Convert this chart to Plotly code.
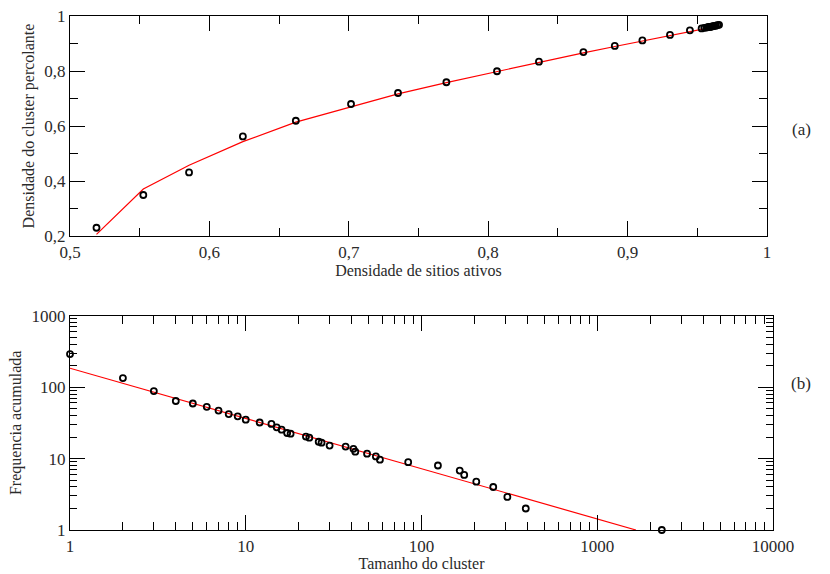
import plotly.graph_objects as go

# (a) percolating cluster density vs. density of active sites
dens_ativos = [0.519, 0.5526, 0.5854, 0.624, 0.662, 0.7016, 0.7353, 0.770, 0.8063,
               0.8364, 0.8683, 0.8908, 0.9106, 0.9304, 0.9447, 0.9531, 0.9550,
               0.9565, 0.9578, 0.9590, 0.9600, 0.9612, 0.9622, 0.9633, 0.9645, 0.9656]
dens_cluster = [0.230, 0.349, 0.431, 0.562, 0.619, 0.680, 0.720, 0.759, 0.799,
                0.834, 0.869, 0.891, 0.911, 0.931, 0.948, 0.955, 0.957,
                0.958, 0.960, 0.960, 0.961, 0.963, 0.964, 0.965, 0.967, 0.968]
ajuste_a = [0.206, 0.371, 0.457, 0.543, 0.614, 0.671, 0.717, 0.758, 0.798,
            0.832, 0.866, 0.889, 0.909, 0.929, 0.944, 0.952, 0.954,
            0.955, 0.957, 0.958, 0.959, 0.960, 0.961, 0.962, 0.963, 0.964]

# (b) cumulative frequency vs. cluster size
tamanho = [1, 2, 3, 4, 5, 6, 7, 8, 9, 10, 12, 14, 15, 16, 17.2, 18, 22, 23, 26, 27,
           30, 37, 41, 42, 49, 55, 58, 84, 124, 165, 175, 205, 256, 308, 392, 2330]
frequencia = [290, 134, 88, 64, 59, 53, 47, 42, 39, 35, 32, 30.5, 27.4, 25.4, 22.8,
              22.3, 20.3, 19.6, 17.2, 16.7, 15.2, 14.7, 13.7, 12.5, 11.7, 10.7, 9.65,
              8.9, 8.0, 6.8, 5.9, 4.75, 4.0, 2.9, 2.0, 1.0]
ajuste_b_x = [1, 1660]
ajuste_b_y = [184, 1]

ticks_b_x = [1, 10, 100, 1000, 10000]
ticks_b_x_txt = ["1", "10", "100", "1000", "10000"]
ticks_b_y = [1, 10, 100, 1000]
ticks_b_y_txt = ["1", "10", "100", "1000"]

FONT = "Liberation Serif, Times New Roman, serif"
TXT = "#2a2a2a"
TICK_SIZE = 17
TITLE_SIZE = 16

fig = go.Figure()

marker_style = dict(symbol="circle-open", size=6, color="black", line=dict(width=1.8, color="black"))

fig.add_trace(go.Scatter(x=dens_ativos, y=ajuste_a, mode="lines",
                         line=dict(color="red", width=1.2), xaxis="x", yaxis="y",
                         showlegend=False))
fig.add_trace(go.Scatter(x=dens_ativos, y=dens_cluster, mode="markers",
                         marker=marker_style, xaxis="x", yaxis="y",
                         cliponaxis=False, showlegend=False))
fig.add_trace(go.Scatter(x=ajuste_b_x, y=ajuste_b_y, mode="lines",
                         line=dict(color="red", width=1.2), xaxis="x2", yaxis="y2",
                         showlegend=False))
fig.add_trace(go.Scatter(x=tamanho, y=frequencia, mode="markers",
                         marker=marker_style, xaxis="x2", yaxis="y2",
                         cliponaxis=False, showlegend=False))

axis_common = dict(showgrid=False, zeroline=False, showline=True, linecolor="black",
                   linewidth=1.2, mirror="ticks", ticks="inside", tickcolor="black",
                   tickwidth=1.2, ticklen=15, automargin=False,
                   tickfont=dict(family=FONT, size=TICK_SIZE, color=TXT))

fig.update_layout(
    width=830, height=574,
    margin=dict(l=0, r=0, t=0, b=0),
    paper_bgcolor="white", plot_bgcolor="white",
    separators=",.",
    font=dict(family=FONT, color=TXT),
    xaxis=dict(axis_common, domain=[70 / 830, 767 / 830], anchor="y",
               range=[0.5, 1.0], dtick=0.1, tick0=0.5,
               minor=dict(ticks="inside", ticklen=8, dtick=0.05, tickcolor="black", tickwidth=1.2),
               title=dict(text="Densidade de sitios ativos", font=dict(family=FONT, size=TITLE_SIZE, color=TXT),
                          standoff=4)),
    yaxis=dict(axis_common, domain=[1 - 236 / 574, 1 - 16 / 574], anchor="x",
               range=[0.2, 1.0], dtick=0.2, tick0=0.2,
               minor=dict(ticks="inside", ticklen=8, dtick=0.1, tickcolor="black", tickwidth=1.2),
               title=dict(text="Densidade do cluster percolante", font=dict(family=FONT, size=TITLE_SIZE, color=TXT),
                          standoff=5)),
    xaxis2=dict(axis_common, domain=[70 / 830, 773 / 830], anchor="y2",
                type="log", range=[0, 4], tickvals=ticks_b_x, ticktext=ticks_b_x_txt,
                minor=dict(ticks="inside", ticklen=8, dtick="D1", tickcolor="black", tickwidth=1.2),
                title=dict(text="Tamanho do cluster", font=dict(family=FONT, size=TITLE_SIZE, color=TXT),
                           standoff=1)),
    yaxis2=dict(axis_common, domain=[1 - 530 / 574, 1 - 315.7 / 574], anchor="x2",
                type="log", range=[0, 3], tickvals=ticks_b_y, ticktext=ticks_b_y_txt,
                minor=dict(ticks="inside", ticklen=7, dtick="D1", tickcolor="black", tickwidth=1.2),
                title=dict(text="Frequencia acumulada", font=dict(family=FONT, size=TITLE_SIZE, color=TXT),
                           standoff=5)),
    annotations=[
        dict(text="(a)", x=813 / 830, y=1 - 118 / 574, xref="paper", yref="paper",
             showarrow=False, font=dict(family=FONT, size=17, color=TXT)),
        dict(text="(b)", x=813 / 830, y=1 - 395 / 574, xref="paper", yref="paper",
             showarrow=False, font=dict(family=FONT, size=17, color=TXT)),
    ],
)

fig.write_html("out.html")
